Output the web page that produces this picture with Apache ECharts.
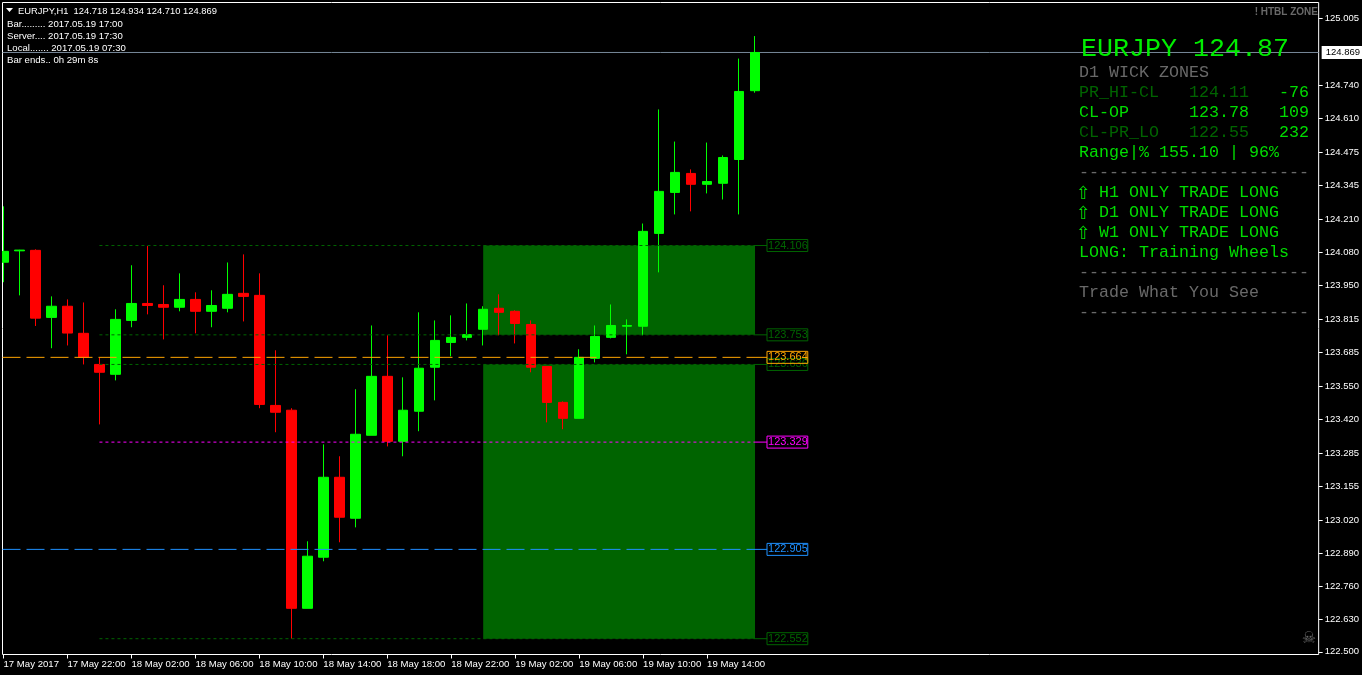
<!DOCTYPE html>
<html>
<head>
<meta charset="utf-8">
<style>html,body{margin:0;padding:0;background:#000}#c{width:1362px;height:675px}</style>
<script src="https://cdn.jsdelivr.net/npm/echarts@6/dist/echarts.min.js"></script>
</head>
<body>
<div id="c"></div>
<script>
// [open, close, low, high]
const candles = [
[124.040,124.083,123.961,124.261],[124.085,124.088,123.909,124.089],[124.087,123.819,123.788,124.091],
[123.822,123.866,123.700,123.905],[123.866,123.760,123.711,123.893],[123.759,123.664,123.636,123.881],
[123.636,123.605,123.399,123.663],[123.597,123.814,123.573,123.854],[123.810,123.877,123.783,124.028],
[123.877,123.869,123.834,124.104],[123.873,123.862,123.735,123.949],[123.862,123.893,123.846,123.996],
[123.893,123.846,123.759,123.921],[123.846,123.869,123.783,123.929],[123.858,123.913,123.842,124.039],
[123.917,123.905,123.806,124.071],[123.909,123.478,123.463,123.996],[123.474,123.447,123.368,123.692],
[123.455,122.672,122.552,123.463],[122.672,122.878,122.672,122.937],[122.874,123.190,122.858,123.320],
[123.190,123.032,122.933,123.273],[123.028,123.360,122.992,123.538],[123.356,123.589,123.356,123.790],
[123.589,123.332,123.312,123.751],[123.332,123.455,123.273,123.585],[123.451,123.621,123.372,123.842],
[123.625,123.731,123.494,123.810],[123.723,123.743,123.668,123.830],[123.743,123.754,123.731,123.877],
[123.775,123.854,123.711,123.866],[123.858,123.842,123.751,123.913],[123.846,123.798,123.719,123.850],
[123.794,123.625,123.605,123.810],[123.628,123.486,123.407,123.628],[123.486,123.423,123.380,123.490],
[123.423,123.664,123.423,123.696],[123.660,123.747,123.644,123.790],[123.743,123.790,123.739,123.873],
[123.787,123.790,123.676,123.814],[123.787,124.162,123.751,124.193],[124.154,124.320,124.000,124.644],
[124.316,124.395,124.229,124.517],[124.391,124.348,124.241,124.407],[124.348,124.359,124.312,124.513],
[124.352,124.454,124.288,124.462],[124.446,124.715,124.229,124.845],[124.718,124.869,124.710,124.934]
];
const xTickIndex = [0,4,8,12,16,20,24,28,32,36,40,44];
const xTickLabels = ['17 May 2017','17 May 22:00','18 May 02:00','18 May 06:00','18 May 10:00','18 May 14:00','18 May 18:00','18 May 22:00','19 May 02:00','19 May 06:00','19 May 10:00','19 May 14:00'];
const yTicks = [125.005,124.740,124.610,124.475,124.345,124.210,124.080,123.950,123.815,123.685,123.550,123.420,123.285,123.155,123.020,122.890,122.760,122.630,122.500];
const currentPrice = 124.869;
const zoneUpper = [124.106, 123.753];
const zoneLower = [123.636, 122.552];
const zoneStart = 30, zoneEnd = 47;
const shortLevels = [124.106, 123.753, 123.636, 122.552];
const magentaLevel = 123.329;
const fullLevels = [[122.905,'#1e90ff'],[123.664,'#ffa500']];
const headerText = 'EURJPY,H1  124.718 124.934 124.710 124.869';
const infoLines = ['Bar......... 2017.05.19 17:00','Server.... 2017.05.19 17:30','Local....... 2017.05.19 07:30','Bar ends.. 0h 29m 8s'];

const GREEN='#00ff00', RED='#ff0000', DARK='#006400', DIM='#696969', PANEL='#00dd00';
// panel rows: text, x, y, colour
const panelRows = [
 ['D1 WICK ZONES',1079,73,DIM],
 ['PR_HI-CL',1079,93,DARK],['124.11',1189,93,DARK],['-76',1279,93,PANEL],
 ['CL-OP',1079,113,PANEL],['123.78',1189,113,PANEL],['109',1279,113,PANEL],
 ['CL-PR_LO',1079,133,DARK],['122.55',1189,133,DARK],['232',1279,133,PANEL],
 ['Range|% 155.10 | 96%',1079,153,PANEL],
 ['-----------------------',1079,173,DIM],
 ['H1 ONLY TRADE LONG',1099,193,PANEL],['D1 ONLY TRADE LONG',1099,213,PANEL],['W1 ONLY TRADE LONG',1099,233,PANEL],
 ['LONG: Training Wheels',1079,253,PANEL],
 ['-----------------------',1079,273,DIM],
 ['Trade What You See',1079,293,DIM],
 ['-----------------------',1079,313,DIM]
];
const arrowRows = [194,214,234];

const AX = '"Liberation Sans",Arial,sans-serif';
const MONO = '"Liberation Mono",monospace';
const X0 = -0.0625, X1 = 82.25, LABEL_X = 47.75;

const txt = (t,x,y,fill,font,align) => ({type:'text',z:100,silent:true,style:{text:t,x,y,fill,font,textAlign:align||'left',textVerticalAlign:'middle'}});

function levelSeries(v, color, dash, startX){
  return [
   {type:'line',silent:true,animation:false,symbol:'none',z:5,data:[[startX,v],[47,v]],
    lineStyle:{color,width:1,type:dash}},
   {type:'line',silent:true,animation:false,symbol:'none',z:6,data:[[47,v],[LABEL_X,v]],
    lineStyle:{color,width:1},
    endLabel:{show:true,formatter:v.toFixed(3),distance:0,color,fontFamily:AX,fontSize:11,
      borderColor:color,borderWidth:1,padding:[1,0,0,1]}}
  ];
}
const series = [
 {type:'line',silent:true,animation:false,symbol:'none',z:1,data:[],
  markArea:{silent:true,animation:false,itemStyle:{color:DARK},data:[
    [{coord:[zoneStart,zoneUpper[0]]},{coord:[zoneEnd,zoneUpper[1]]}],
    [{coord:[zoneStart,zoneLower[0]]},{coord:[zoneEnd,zoneLower[1]]}]
  ]}},
 {type:'line',silent:true,animation:false,symbol:'none',z:2,data:[[X0,currentPrice],[X1,currentPrice]],
  lineStyle:{color:'#778899',width:1},
  endLabel:{show:true,formatter:currentPrice.toFixed(3),distance:3,color:'#000',fontFamily:AX,fontSize:9.5,
    backgroundColor:'#fff',padding:[2,3,0,4],width:34,height:11}},
 {type:'candlestick',animation:false,silent:true,z:3,barWidth:10,clip:true,
  data:candles.map((c,i)=>[i,c[0],c[1],c[2],c[3]]),
  itemStyle:{color:GREEN,color0:RED,borderColor:GREEN,borderColor0:RED,borderWidth:1}},
 ...shortLevels.flatMap(v=>levelSeries(v,DARK,[3,3],6)),
 ...levelSeries(magentaLevel,'#ff00ff',[3,3],6),
 ...fullLevels.flatMap(l=>levelSeries(l[0],l[1],[18,6],X0))
];

const graphics = [
 {type:'rect',z:90,silent:true,shape:{x:0,y:0,width:2,height:675},style:{fill:'#000'}},
 {type:'polygon',z:100,silent:true,shape:{points:[[6,8],[13,8],[9.5,12]]},style:{fill:'#fff'}},
 txt(headerText,18,11,'#fff','9.4px '+AX),
 ...infoLines.map((t,i)=>txt(t,7,24+12*i,'#fff','9.6px '+AX)),
 txt('! HTBL ZONE',1318,12,DIM,'bold 10px '+AX,'right'),
 txt('EURJPY 124.87',1081,49,'#00ee00','26.67px '+MONO),
 ...panelRows.map(r=>txt(r[0],r[1],r[2],r[3],'16.67px '+MONO)),
 ...arrowRows.map(y=>txt('\u21E7',1076,y,PANEL,'18px "DejaVu Sans"')),
 txt('\u2620',1309,639,DIM,'16px "DejaVu Sans"','center')
];

const chart = echarts.init(document.getElementById('c'),null,{renderer:'canvas'});
chart.setOption({
 animation:false,backgroundColor:'#000',
 grid:{left:2.5,top:2.5,width:1317,height:652,show:true,borderColor:'#fff',borderWidth:1,backgroundColor:'#000',containLabel:false},
 xAxis:{type:'value',min:X0,max:X1,splitLine:{show:false},axisLine:{show:false,onZero:false},
  axisTick:{show:true,length:4,lineStyle:{color:'#fff'},customValues:xTickIndex},
  axisLabel:{show:true,color:'#fff',fontFamily:AX,fontSize:9.6,margin:5,align:'left',customValues:xTickIndex,
    formatter:v=>xTickLabels[xTickIndex.indexOf(v)]||''}},
 yAxis:{type:'value',position:'right',min:122.4895,max:125.0666,splitLine:{show:false},axisLine:{show:false,onZero:false},
  axisTick:{show:true,length:4,lineStyle:{color:'#fff'},customValues:yTicks},
  axisLabel:{show:true,color:'#fff',fontFamily:AX,fontSize:9.5,margin:6,padding:[1,0,0,0],customValues:yTicks,formatter:v=>v.toFixed(3)}},
 series,
 graphic:graphics
});
</script>
</body>
</html>
